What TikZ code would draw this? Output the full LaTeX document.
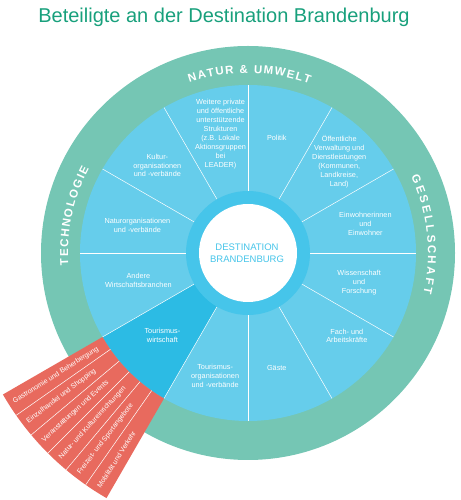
\documentclass[tikz,border=0pt]{standalone}
\usepackage{fontspec}
\setmainfont{Liberation Sans}
\usetikzlibrary{decorations.text}
\definecolor{brbTitle}{RGB}{24,160,124}
\definecolor{brbGreen}{RGB}{117,198,180}
\definecolor{brbBlue}{RGB}{102,205,235}
\definecolor{brbDark}{RGB}{44,187,228}
\definecolor{brbRing}{RGB}{70,197,234}
\definecolor{brbRed}{RGB}{232,106,94}
\newcommand{\ringfont}{\fontsize{11.5}{12}\selectfont\bfseries}
\tikzset{
  segtext/.style={text=white, align=center, font=\fontsize{7.3}{8.9}\selectfont, inner sep=0pt},
  fantext/.style={text=white, anchor=west, font=\fontsize{7}{8}\selectfont, inner sep=1pt},
  divider/.style={draw=white, line width=0.5pt},
  ringlabel/.style={decorate, decoration={text along path, text color=white, text align=fit to path}}
}
\begin{document}
\begin{tikzpicture}[x=1pt, y=1pt]
% Stakeholder wheel, units in px of the 460x500 sheet
\def\rGreen{207}
\def\rBlue{168}
\def\rRing{62}
\def\rCore{49}
\def\rFan{283}
\useasboundingbox (0,0) rectangle (460,500);
\node[text=brbTitle, font=\fontsize{20}{24}\selectfont, anchor=base] (title) at (224,477) {Beteiligte an der Destination Brandenburg};
\begin{scope}[shift={(248,247)}]
  % Outer green ring and blue wheel
  \fill[brbGreen] (0,0) circle (\rGreen);
  \fill[brbBlue] (0,0) circle (\rBlue);
  % Highlighted segment
  \fill[brbDark] (0,0) -- (210:\rBlue) arc (210:240:\rBlue) -- cycle;
  % Red fan over the ring
  \fill[brbRed] (210:\rBlue) arc (210:240:\rBlue) -- (240:\rFan) arc (240:210:\rFan) -- cycle;
  % Divider lines
  \foreach \a in {0,30,...,330}
    \draw[divider] (\a:\rRing) -- (\a:\rBlue);
  \foreach \a in {215,220,...,235}
    \draw[divider] (\a:\rBlue) -- (\a:\rFan);
  % Core
  \fill[brbRing] (0,0) circle (\rRing);
  \fill[white] (0,0) circle (\rCore);
  \node[text=brbRing, align=center, font=\fontsize{9.5}{12}\selectfont] (center) at (-1,0) {DESTINATION\\BRANDENBURG};
  % Ring labels
  \path[ringlabel, decoration={text={|\ringfont|NATUR {\&} UMWELT}}] (109:180) arc (109:70:180);
  \path[ringlabel, decoration={text={|\ringfont|GESELLSCHAFT}}] (25:180) arc (25:-13:180);
  \path[ringlabel, decoration={text={|\ringfont|TECHNOLOGIE}}] (184:180) arc (184:152:180);
  % Segment labels
  \foreach \a/\r/\txt [count=\i] in {
    103/122/{Weitere private\\und öffentliche\\unterstützende\\Strukturen\\(z.B. Lokale\\Aktionsgruppen\\bei\\LEADER)},
    76/119/{Politik},
    45/129/{Öffentliche\\Verwaltung und\\Dienstleistungen\\(Kommunen,\\Landkreise,\\Land)},
    14/121/{Einwohnerinnen\\und\\Einwohner},
    -15/115/{Wissenschaft\\und\\Forschung},
    -40/129/{Fach- und\\Arbeitskräfte},
    -76/119/{Gäste},
    -105/127/{Tourismus-\\organisationen\\und -verbände},
    -136/119/{Tourismus-\\wirtschaft},
    -166/113/{Andere\\Wirtschaftsbranchen},
    166/114/{Naturorganisationen\\und -verbände},
    136/126/{Kultur-\\organisationen\\und -verbände}}
    \node[segtext] (seg\i) at (\a:\r) {\txt};
  % Fan labels
  \foreach \txt [count=\i] in {Gastronomie und Beherbergung, Einzelhandel und Shopping,
    Veranstaltungen und Events, Natur- und Kultureinrichtungen,
    Freizeit- und Sportangebote, Mobilität und Verkehr}
    \node[fantext, rotate={27.5+5*\i}] (fan\i) at ({207.5+5*\i}:279) {\txt};
\end{scope}
\end{tikzpicture}
\end{document}
